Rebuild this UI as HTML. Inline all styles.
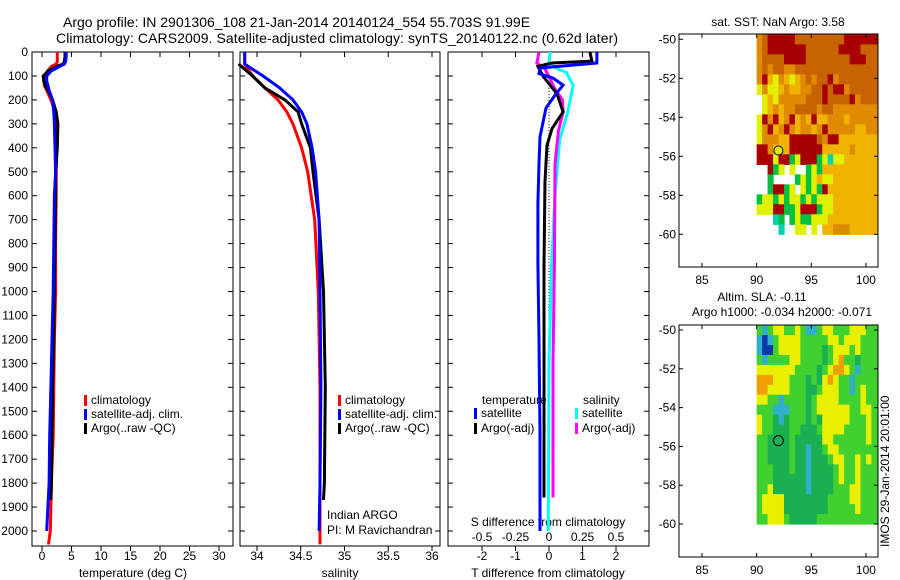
<!DOCTYPE html>
<html><head><meta charset="utf-8"><style>
html,body{margin:0;padding:0;background:#fff;}
svg{display:block;font-family:"Liberation Sans",sans-serif;}
</style></head><body>
<svg id="fig" width="900" height="580" viewBox="0 0 900 580" xmlns="http://www.w3.org/2000/svg">
<text x="63" y="27" font-size="14">Argo profile: IN 2901306_108 21-Jan-2014 20140124_554 55.703S 91.99E</text>
<text x="56" y="43" font-size="14" textLength="562">Climatology: CARS2009. Satellite-adjusted climatology: synTS_20140122.nc (0.62d later)</text>
</svg>
<script>
// ---------- data ----------
var depthTicks=[0,100,200,300,400,500,600,700,800,900,1000,1100,1200,1300,1400,1500,1600,1700,1800,1900,2000];
var tempTicks=[0,5,10,15,20,25,30];
var salTicks=[34,34.5,35,35.5,36];
var tdiffTicks=[-2,-1,0,1,2];
var sdiffTicks=[-0.5,-0.25,0,0.25,0.5];
var sdiffTickLabels=["-0.5","-0.25","0","0.25","0.5"];

var tClimDepth=[0,20,40,50,60,80,100,120,140,160,200,250,300,400,500,600,800,1000,1200,1400,1600,1800,2000,2056];
var tClimVals=[2.6,2.6,2.6,2.4,1.6,0.9,0.6,0.3,0.4,0.8,1.5,2.2,2.4,2.5,2.4,2.4,2.3,2.3,2.1,2.0,1.9,1.6,1.4,1.1];
var tSatDepth=[0,20,40,50,60,80,100,120,140,160,200,250,300,400,500,600,800,1000,1200,1400,1600,1800,1900,2000];
var tSatVals=[4.1,4.1,4.0,3.8,3.0,1.5,0.8,0.8,1.0,1.2,1.8,2.0,2.1,2.2,2.3,2.1,2.0,1.9,1.7,1.5,1.3,1.2,1.0,0.8];
var tArgoDepth=[0,20,40,50,60,80,100,120,140,160,200,250,300,400,500,600,800,1000,1200,1400,1600,1800,1870];
var tArgoVals=[3.9,3.9,3.8,3.6,2.5,1.0,0.2,0.3,0.5,1.0,1.8,2.4,2.7,2.6,2.3,2.3,2.2,2.1,2.0,1.8,1.7,1.6,1.5];

var sClimDepth=[0,50,100,150,200,250,300,400,500,700,1000,1400,1800,2056];
var sClimVals=[33.86,33.86,33.95,34.09,34.24,34.34,34.41,34.51,34.58,34.66,34.70,34.72,34.72,34.72];
var sSatDepth=[0,50,60,100,150,200,250,300,400,500,700,1000,1400,1800,2000];
var sSatVals=[33.86,33.86,33.90,34.07,34.26,34.41,34.51,34.57,34.63,34.67,34.71,34.72,34.73,34.72,34.71];
var sArgoDepth=[50,100,150,200,250,300,400,500,700,1000,1400,1800,1870];
var sArgoVals=[33.79,33.95,34.09,34.32,34.47,34.51,34.61,34.64,34.71,34.76,34.78,34.77,34.76];

var dTSatDepth=[0,46,67,90,109,138,180,234,354,465,632,882,1200,1600,2000];
var dTSatVals=[1.43,1.43,-0.27,-0.3,0.12,0.42,0.18,-0.09,-0.27,-0.30,-0.33,-0.33,-0.30,-0.27,-0.27];
var dTArgoDepth=[0,38,46,60,100,175,250,320,390,540,890,1300,1860];
var dTArgoVals=[1.22,1.28,0.09,-0.33,-0.18,0.24,0.42,0.09,-0.06,-0.12,-0.15,-0.15,-0.15];
var dSSatDepth=[0,46,70,85,140,250,365,600,880,1300,2000];
var dSSatVals=[0.0075,0.0,0.06,0.13,0.18,0.14,0.08,0.045,0.02,0.0,-0.005];
var dSArgoDepth=[0,46,70,155,200,250,330,470,890,1300,1860];
var dSArgoVals=[-0.075,-0.09,-0.03,0.045,0.1,0.105,0.07,0.045,0.04,0.03,0.03];

var latTicks=[-50,-52,-54,-56,-58,-60];
var lonTicks=[85,90,95,100];
var gridLon0=90, gridDLon=0.5, gridLat0=-49.75, gridLat1=-60;
var argoLon=91.99, argoLat=-55.703;
var sstRows=[
"oORRRRROOOOOOOOORRRRRR","oORRRRRRROOOOOORRRROOO","oOOOORRRROOOOOOOORRROO","oOoOOooOOOOOOOOOOOOOOO",
"oRyYoyYyoOoOORoOOOOOOO","YoYYyoyyooOORORRoOOOOO",".YyYoooooOOOROOOORoOOO",".YyoyooOOOOoOOoooooooo",
"YRoRyoRyoyRyyoooyooooo","YoRyoRoyooyoRoooooyyoo","YoooyyRRRRROoRRyyyyyyy","RRoyyyRRRRRRyyyyyoyyyy",
"RRRYRRgYRRRgYcYYyyyyyy","..RgY.Y..gYgyyyyyyyyyy","..g....gYgYyYYyyyyyyyy","..gRRgY.YgYgRyyyyyyyyy",
"gYYgYgYYgYgYYYyyyyyyyy","YYYRRggYRRRgYYyyyyyyyy","...cg.gYggYYYyyyyyyyyy","....c..YY.Y.yyoooyyyyy"];
var slaRows=[
"gcgyyggygccgyygggyyygg","cbcgyyyygggggyygyyyggg","cbbgyyyyggggGgyyygyggg","gcggggyyggggGgyoggGggg",
"yyyyyyyggggGgyooygcggg","oooyyygggGgGyoyggcgggg","ooyyyygggGGgyyyggcgygg","yyggcggggGgyyyyggggygg",
"gggcccgggGgyyyyyyggyyg","yggGcGgggGgGyyyyygggyg","yggGGGggGGGgyyyyggggyg","ggGGGGgGGGGGyyggggggyg",
"ggGGGGgGGcGGgyyggggggg","ggGGGGgGGcGGGgyyggygyg","gggGGGgGGcGGGGgyggyggg","gggGGGGGGcGGGGgyggyggg",
"ggyGGGGGGcGGGGgggyyggg","gyyyyGGGGGGGGggggyyggg","gyyyyGGGGGGGGgggggyggg","ggyyygGGGGGggggggggggg"];
var sstColors={R:"#a80000",O:"#c86400",o:"#e08a00",y:"#f0b400",Y:"#e0f000",g:"#00c040",c:"#00d0b0"};
var slaColors={b:"#0838b0",c:"#30b0c8",G:"#18b050",g:"#40d030",y:"#e8f000",o:"#f0a000"};

// ---------- helpers ----------
var NS="http://www.w3.org/2000/svg";
var svg=document.getElementById('fig');
function mk(tag,attrs,parent){var e=document.createElementNS(NS,tag);for(var k in attrs)e.setAttribute(k,attrs[k]);(parent||svg).appendChild(e);return e;}
function txt(s,x,y,size,anchor){var e=mk('text',{x:x,y:y,'font-size':size,'text-anchor':anchor||'start'});e.textContent=s;return e;}

var top0=52, bot0=546, pyPerM=0.2395;
function dY(d){return top0+d*pyPerM;}
var panels=[
 {x0:32,x1:233,fx:function(v){return 42+v*5.9;}},
 {x0:240,x1:440,fx:function(v){return 257+(v-34)*87.5;}},
 {x0:448,x1:649,fx:function(v){return 549+v*33.5;}}
];
function sfx(v){return 549+v*134;}

panels.forEach(function(p,i){
  var f=mk('rect',{x:p.x0,y:top0,width:p.x1-p.x0,height:bot0-top0,fill:'none',stroke:'#000','stroke-width':1});
  
  
  depthTicks.forEach(function(d){
    var y=dY(d);
    var t1=mk('line',{x1:p.x0,y1:y,x2:p.x0+5,y2:y,stroke:'#000'});
    
    
    var t2=mk('line',{x1:p.x1,y1:y,x2:p.x1-5,y2:y,stroke:'#000'});
    
    
  });
});
depthTicks.forEach(function(d){
  var l=txt(String(d),28,dY(d)+4,12,'end');
  
  
});
function xTicks(p,ticks,labels,name){
  ticks.forEach(function(v,i){
    var x=p.fx(v);
    var a=mk('line',{x1:x,y1:top0,x2:x,y2:top0+5,stroke:'#000'});
    
    
    var b=mk('line',{x1:x,y1:bot0,x2:x,y2:bot0+5,stroke:'#000'});
    
    
    var l=txt(labels[i],x,560,12,'middle');
    
    
  });
}
xTicks(panels[0],tempTicks,tempTicks.map(String),'temperature');
xTicks(panels[1],salTicks,salTicks.map(String),'salinity');
xTicks(panels[2],tdiffTicks,tdiffTicks.map(String),'t-diff');
sdiffTicks.forEach(function(v,i){
  var l=txt(sdiffTickLabels[i],sfx(v),541,12,'middle');
  
  
});
var xl1=txt('temperature (deg C)',133,577,12,'middle');


var xl2=txt('salinity',340,577,12,'middle');


var xl3=txt('T difference from climatology',548,577,12,'middle');


var xl4=txt('S difference from climatology',548,526,12,'middle');



var z=mk('line',{x1:549,y1:dY(150),x2:549,y2:dY(2000),stroke:'#000','stroke-dasharray':'1,2'});



function profile(depths,vals,fx,color,name){
  var pts=depths.map(function(d,i){return fx(vals[i]).toFixed(1)+','+dY(d).toFixed(1);}).join(' ');
  var e=mk('polyline',{points:pts,fill:'none',stroke:color,'stroke-width':3,'stroke-linejoin':'miter'});
  
  
}
profile(tClimDepth,tClimVals,panels[0].fx,'#ff0000','temp-climatology-line');
profile(tArgoDepth,tArgoVals,panels[0].fx,'#000000','temp-argo-line');
profile(tSatDepth,tSatVals,panels[0].fx,'#0000ff','temp-satellite-line');
profile(sClimDepth,sClimVals,panels[1].fx,'#ff0000','sal-climatology-line');
profile(sArgoDepth,sArgoVals,panels[1].fx,'#000000','sal-argo-line');
profile(sSatDepth,sSatVals,panels[1].fx,'#0000ff','sal-satellite-line');
profile(dSSatDepth,dSSatVals,sfx,'#00ffff','s-diff-satellite-line');
profile(dSArgoDepth,dSArgoVals,sfx,'#ff00ff','s-diff-argo-line');
profile(dTArgoDepth,dTArgoVals,panels[2].fx,'#000000','t-diff-argo-line');
profile(dTSatDepth,dTSatVals,panels[2].fx,'#0000ff','t-diff-satellite-line');

function legend(x,y,color,label,name){
  var r=mk('rect',{x:x,y:y-9,width:3,height:11,fill:color});
  
  
  var t=txt(label,x+7,y,12,'start');
  
  
}
legend(84,404,'#ff0000','climatology','legend-temp-climatology');
legend(84,418,'#0000ff','satellite-adj. clim.','legend-temp-satellite');
legend(84,432,'#000000','Argo(..raw -QC)','legend-temp-argo');
legend(338,404,'#ff0000','climatology','legend-sal-climatology');
legend(338,418,'#0000ff','satellite-adj. clim.','legend-sal-satellite');
legend(338,432,'#000000','Argo(..raw -QC)','legend-sal-argo');
var lt=txt('temperature',482,404,12,'start');


var ls=txt('salinity',583,404,12,'start');


legend(474,417,'#0000ff','satellite','legend-tdiff-satellite');
legend(474,432,'#000000','Argo(-adj)','legend-tdiff-argo');
legend(575,417,'#00ffff','satellite','legend-sdiff-satellite');
legend(575,432,'#ff00ff','Argo(-adj)','legend-sdiff-argo');
var ia=txt('Indian ARGO',327,519,12,'start');


var pi=txt('PI: M Ravichandran',327,534,12,'start');



// ---------- maps ----------
function lonX(lon){return 702+(lon-85)*10.93;}
function drawMap(rows,colors,yOf,fy0,fy1,name){
  var nR=rows.length, dLat=(gridLat0-gridLat1)/nR;
  rows.forEach(function(row,r){
    for(var c=0;c<row.length;c++){
      var k=row.charAt(c); if(!colors[k]) continue;
      var lon=gridLon0+c*gridDLon, lat=gridLat0-r*dLat;
      var x=lonX(lon), y=yOf(lat);
      var cell=mk('rect',{x:x.toFixed(2),y:y.toFixed(2),width:(lonX(lon+gridDLon)-x+0.6).toFixed(2),height:(yOf(lat-dLat)-y+0.6).toFixed(2),fill:colors[k]});
      
      
    }
  });
  var f=mk('rect',{x:679,y:fy0,width:199,height:fy1-fy0,fill:'none',stroke:'#000'});
  
  
  latTicks.forEach(function(l){
    var y=yOf(l);
    var a=mk('line',{x1:679,y1:y,x2:683,y2:y,stroke:'#000'});
    
    
    var b=mk('line',{x1:878,y1:y,x2:874,y2:y,stroke:'#000'});
    
    
    var t=txt(String(l),676,y+4,12,'end');
    
    
  });
  lonTicks.forEach(function(l){
    var x=lonX(l);
    var a=mk('line',{x1:x,y1:fy1,x2:x,y2:fy1-4,stroke:'#000'});
    
    
    var b=mk('line',{x1:x,y1:fy0,x2:x,y2:fy0+4,stroke:'#000'});
    
    
    var t=txt(String(l),x,fy1+17,12,'middle');
    
    
  });
}
function y1(lat){return 39.3+(-50-lat)*19.5;}
function y2(lat){return 330+(-50-lat)*19.4;}
drawMap(sstRows,sstColors,y1,34,267,'sst-map');
drawMap(slaRows,slaColors,y2,325,557,'sla-map');
var c1=mk('circle',{cx:lonX(argoLon),cy:y1(argoLat),r:4.5,fill:'#e0f000',stroke:'#000'});


var c2=mk('circle',{cx:lonX(argoLon),cy:y2(argoLat),r:5,fill:'none',stroke:'#000'});


var m1=txt('sat. SST: NaN Argo: 3.58',778,26,12,'middle');


var m2=txt('Altim. SLA: -0.11',762,301,12,'middle');


var m3=txt('Argo h1000: -0.034 h2000: -0.071',782,316,12,'middle');


var vt=txt('IMOS 29-Jan-2014 20:01:00',0,0,12,'start');
vt.setAttribute('transform','translate(889,547) rotate(-90)');


</script>
</body></html>
